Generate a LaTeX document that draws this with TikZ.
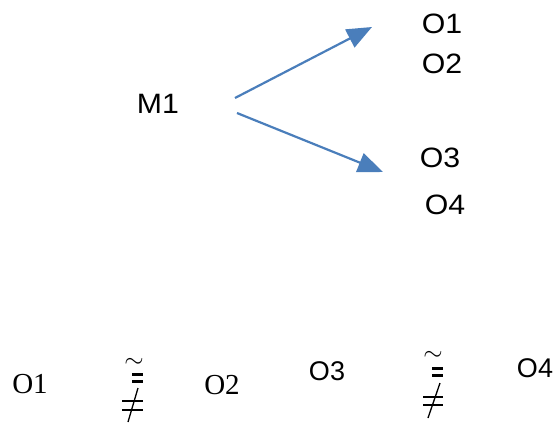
\documentclass[tikz,border=0pt]{standalone}
\usepackage{fontspec}
\setmainfont{Liberation Serif}
\newfontfamily\arialf{Liberation Sans}
\usetikzlibrary{arrows.meta}
\definecolor{arrowblue}{HTML}{4A7EBB}
\tikzset{
  toplbl/.style={inner sep=0pt, font=\arialf\fontsize{28}{32}\selectfont, xscale=1.08},
  sanslbl/.style={inner sep=0pt, font=\arialf\fontsize{27}{31}\selectfont},
  seriflbl/.style={inner sep=0pt, font=\fontsize{29}{33}\selectfont},
  conn/.style={draw=arrowblue, line width=2.2pt, -{Triangle[length=25pt,width=20pt]}, arrowblue},
  eqbar/.style={line width=3pt},
  nebar/.style={line width=1.3pt},
  tildelbl/.style={inner sep=0pt, font=\fontsize{26}{30}\selectfont}
}
\begin{document}
\begin{tikzpicture}[x=1pt, y=-1pt]
\useasboundingbox (0,0) rectangle (554,426);
% top part
\node[toplbl] (M1) at (158,104) {M1};
\node[toplbl] (O1) at (442,24) {O1};
\node[toplbl] (O2) at (442,64) {O2};
\node[toplbl] (O3) at (440,158) {O3};
\node[toplbl] (O4) at (445,205) {O4};
\coordinate (s1) at (235,98);
\coordinate (t1) at (372,27);
\coordinate (s2) at (237,113);
\coordinate (t2) at (383,172);
\draw[conn] (s1) -- (t1);
\draw[conn] (s2) -- (t2);
% bottom row
\node[seriflbl] (b1) at (30,384) {O1};
\node[seriflbl] (b2) at (222,385) {O2};
\node[sanslbl] (b3) at (327,371) {O3};
\node[sanslbl] (b4) at (535,368) {O4};
% relation symbol 1
\node[tildelbl] (tl1) at (134,363) {$\sim$};
\coordinate (e1a) at (132,374.5); \coordinate (e1b) at (143,374.5);
\coordinate (e1c) at (132,381.5); \coordinate (e1d) at (143,381.5);
\draw[eqbar] (e1a) -- (e1b);
\draw[eqbar] (e1c) -- (e1d);
\coordinate (n1a) at (122,401); \coordinate (n1b) at (143,401);
\coordinate (n1c) at (122,410); \coordinate (n1d) at (143,410);
\coordinate (n1e) at (138,388); \coordinate (n1f) at (128,422);
\draw[nebar] (n1a) -- (n1b);
\draw[nebar] (n1c) -- (n1d);
\draw[nebar] (n1e) -- (n1f);
% relation symbol 2
\node[tildelbl] (tl2) at (433,356) {$\sim$};
\coordinate (e2a) at (432,368.5); \coordinate (e2b) at (443,368.5);
\coordinate (e2c) at (432,375.5); \coordinate (e2d) at (443,375.5);
\draw[eqbar] (e2a) -- (e2b);
\draw[eqbar] (e2c) -- (e2d);
\coordinate (n2a) at (423,397); \coordinate (n2b) at (443,397);
\coordinate (n2c) at (423,405); \coordinate (n2d) at (443,405);
\coordinate (n2e) at (440,383); \coordinate (n2f) at (428,418);
\draw[nebar] (n2a) -- (n2b);
\draw[nebar] (n2c) -- (n2d);
\draw[nebar] (n2e) -- (n2f);
\end{tikzpicture}
\end{document}
